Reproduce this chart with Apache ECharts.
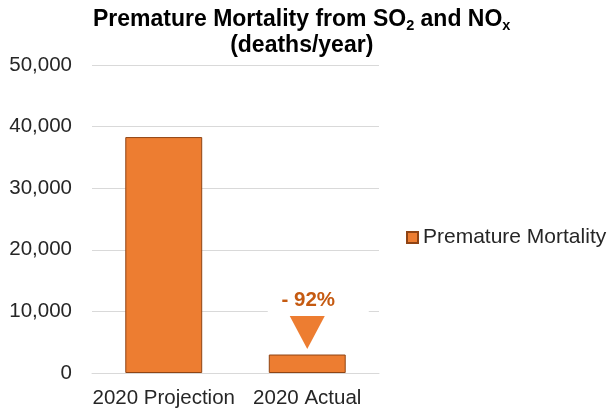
<!DOCTYPE html>
<html><head><meta charset="utf-8">
<script src="https://cdn.jsdelivr.net/npm/echarts@6/dist/echarts.min.js"></script>
<style>html,body{margin:0;padding:0;background:#fff}#c{width:613px;height:411px}</style>
</head><body><div id="c"></div>
<script>
const categories = ['2020 Projection', '2020 Actual'];
const mortality = [38300, 3000];
const seriesName = 'Premature Mortality';
const changeLabel = '- 92%';
const yMin = 0, yMax = 50000, yStep = 10000;

const FONT = '"Liberation Sans", Arial, sans-serif';
const chart = echarts.init(document.getElementById('c'), null, {renderer: 'canvas'});
chart.setOption({
  animation: false,
  backgroundColor: '#fff',
  title: {
    left: 89, top: 3, padding: 4, textAlign: 'left',
    text: '{t|Premature Mortality from SO}{s|2}{t| and NO}{s|x}\n{t|(deaths/year)}',
    textStyle: {
      fontFamily: FONT, align: 'center',
      rich: {
        t: {fontFamily: FONT, fontSize: 23, fontWeight: 'bold', color: '#000', lineHeight: 26, align: 'center'},
        s: {fontFamily: FONT, fontSize: 14.5, fontWeight: 'bold', color: '#000', lineHeight: 14, padding: [8, 0, 0, 0], verticalAlign: 'bottom'}
      }
    }
  },
  legend: {
    left: 406, top: 227, padding: 0, itemWidth: 11, itemHeight: 11,
    icon: 'rect',
    textStyle: {fontFamily: FONT, fontSize: 21, color: '#262626'},
    data: [seriesName]
  },
  grid: {left: 92, right: 234, top: 65, bottom: 38, containLabel: false},
  xAxis: {
    type: 'category', data: categories,
    axisLine: {show: true, lineStyle: {color: '#d9d9d9', width: 1}},
    axisTick: {show: false},
    axisLabel: {fontFamily: FONT, fontSize: 20.5, color: '#262626', margin: 15, interval: 0, hideOverlap: false}
  },
  yAxis: {
    type: 'value', min: yMin, max: yMax, interval: yStep,
    axisLine: {show: false}, axisTick: {show: false},
    splitLine: {lineStyle: {color: '#d9d9d9', width: 1}},
    axisLabel: {fontFamily: FONT, fontSize: 20.5, color: '#262626', margin: 20,
      formatter: v => v.toLocaleString('en-US')}
  },
  series: [{
    name: seriesName, type: 'bar', data: mortality, barWidth: '53.6%',
    itemStyle: {color: '#ED7D31', borderColor: '#8F4414', borderWidth: 1},
    markPoint: {
      silent: true,
      data: [
        {coord: [categories[1], mortality[1]], symbol: 'triangle', symbolRotate: 180,
         symbolSize: [35, 33], symbolOffset: [0, -22],
         itemStyle: {color: '#ED7D31'}, label: {show: false}},
        {coord: [categories[1], mortality[1]], symbol: 'rect',
         symbolSize: [101, 28], symbolOffset: [11, -54],
         itemStyle: {color: '#fff'},
         label: {show: true, formatter: changeLabel, position: 'inside', offset: [-10, 0],
           fontFamily: FONT, fontSize: 20.5, fontWeight: 'bold', color: '#C55A11'}}
      ]
    }
  }]
});
</script></body></html>
